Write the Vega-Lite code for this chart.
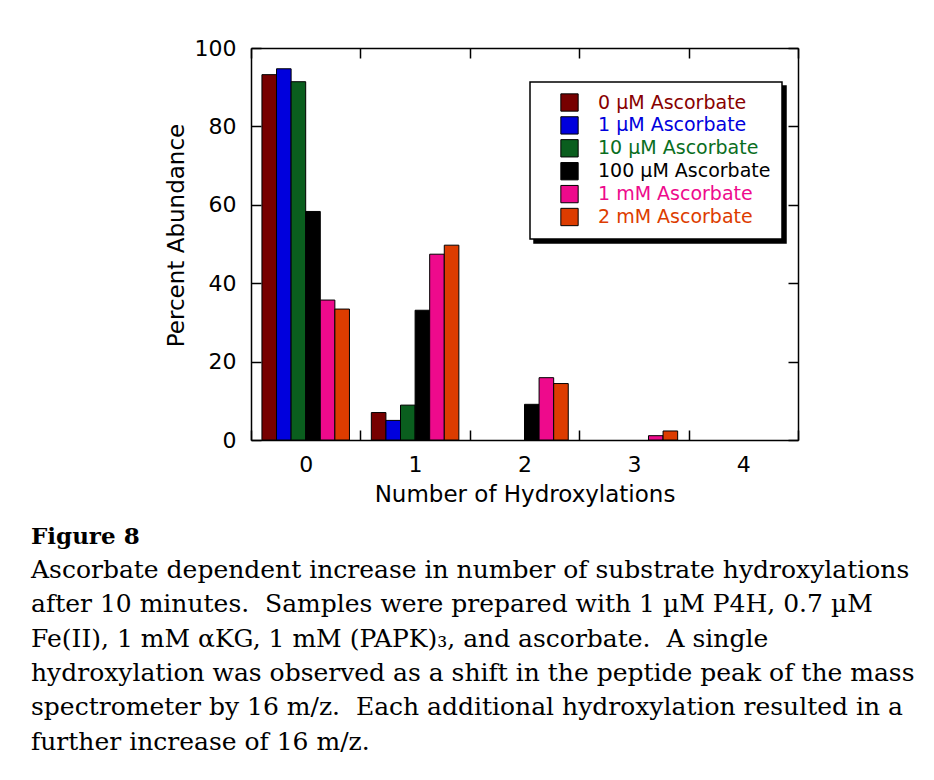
{
  "$schema": "https://vega.github.io/schema/vega-lite/v6.json",
  "autosize": {"type": "none"},
  "padding": {"left": 251, "top": 48, "right": 136, "bottom": 340},
  "width": 547,
  "height": 392,
  "background": "white",
  "config": {
    "font": "DejaVu Sans",
    "view": {"stroke": null},
    "axis": {"grid": false, "domainColor": "black", "domainWidth": 1.5, "tickColor": "black", "tickWidth": 1.5, "tickSize": -10, "labelColor": "black", "labelFontSize": 22, "titleColor": "black", "titleFontSize": 23, "titleFontWeight": "normal"},
    "legend": {"padding": 11, "symbolOffset": 19, "labelOffset": 19, "symbolType": "square", "symbolSize": 300, "symbolStrokeColor": "black", "symbolStrokeWidth": 1, "symbolOpacity": 1, "labelFontSize": 19, "rowPadding": -0.1, "strokeColor": "black", "labelLimit": 400}
  },
  "data": {"values": [
    {"hydroxylations": "0", "ascorbate": "0 µM Ascorbate", "percent": 93.2},
    {"hydroxylations": "0", "ascorbate": "1 µM Ascorbate", "percent": 94.7},
    {"hydroxylations": "0", "ascorbate": "10 µM Ascorbate", "percent": 91.4},
    {"hydroxylations": "0", "ascorbate": "100 µM Ascorbate", "percent": 58.3},
    {"hydroxylations": "0", "ascorbate": "1 mM Ascorbate", "percent": 35.7},
    {"hydroxylations": "0", "ascorbate": "2 mM Ascorbate", "percent": 33.4},
    {"hydroxylations": "1", "ascorbate": "0 µM Ascorbate", "percent": 7.0},
    {"hydroxylations": "1", "ascorbate": "1 µM Ascorbate", "percent": 5.0},
    {"hydroxylations": "1", "ascorbate": "10 µM Ascorbate", "percent": 8.9},
    {"hydroxylations": "1", "ascorbate": "100 µM Ascorbate", "percent": 33.1},
    {"hydroxylations": "1", "ascorbate": "1 mM Ascorbate", "percent": 47.4},
    {"hydroxylations": "1", "ascorbate": "2 mM Ascorbate", "percent": 49.7},
    {"hydroxylations": "2", "ascorbate": "100 µM Ascorbate", "percent": 9.1},
    {"hydroxylations": "2", "ascorbate": "1 mM Ascorbate", "percent": 15.9},
    {"hydroxylations": "2", "ascorbate": "2 mM Ascorbate", "percent": 14.4},
    {"hydroxylations": "3", "ascorbate": "1 mM Ascorbate", "percent": 1.1},
    {"hydroxylations": "3", "ascorbate": "2 mM Ascorbate", "percent": 2.3}
  ]},
  "title": {
    "text": "Figure 8",
    "subtitle": [
      "Ascorbate dependent increase in number of substrate hydroxylations",
      "after 10 minutes.\u00a0 Samples were prepared with 1 µM P4H, 0.7 µM",
      "Fe(II), 1 mM αKG, 1 mM (PAPK)₃, and ascorbate.\u00a0 A single",
      "hydroxylation was observed as a shift in the peptide peak of the mass",
      "spectrometer by 16 m/z.\u00a0 Each additional hydroxylation resulted in a",
      "further increase of 16 m/z."
    ],
    "orient": "bottom",
    "anchor": "start",
    "frame": "group",
    "dx": -220,
    "offset": 20,
    "font": "DejaVu Serif",
    "fontSize": 23,
    "fontWeight": "bold",
    "color": "black",
    "subtitleFont": "DejaVu Serif",
    "subtitleFontSize": 25,
    "subtitleColor": "black",
    "subtitleLineHeight": 34.3,
    "subtitlePadding": 9
  },
  "resolve": {"scale": {"color": "independent"}, "axis": {"x": "independent", "y": "independent"}},
  "layer": [
    {
      "mark": {"type": "bar", "stroke": "black", "strokeWidth": 1},
      "encoding": {
        "x": {"field": "hydroxylations", "type": "nominal", "scale": {"domain": ["0", "1", "2", "3", "4"], "paddingInner": 0, "paddingOuter": 0},
              "axis": {"orient": "bottom", "title": "Number of Hydroxylations", "labelAngle": 0, "tickBand": "extent", "labelPadding": 24, "titlePadding": 8}},
        "xOffset": {"field": "ascorbate", "type": "nominal", "scale": {"domain": ["0 µM Ascorbate", "1 µM Ascorbate", "10 µM Ascorbate", "100 µM Ascorbate", "1 mM Ascorbate", "2 mM Ascorbate"], "paddingInner": 0, "paddingOuter": 0.75}},
        "y": {"field": "percent", "type": "quantitative", "scale": {"domain": [0, 100], "nice": false},
              "axis": {"orient": "left", "title": "Percent Abundance", "values": [0, 20, 40, 60, 80, 100], "labelPadding": 25, "titlePadding": 6, "titleY": 187}},
        "color": {"field": "ascorbate", "type": "nominal",
          "scale": {"domain": ["0 µM Ascorbate", "1 µM Ascorbate", "10 µM Ascorbate", "100 µM Ascorbate", "1 mM Ascorbate", "2 mM Ascorbate"], "range": ["#770000", "#0000dd", "#0a5e1e", "#000000", "#ee0a8c", "#dd3c00"]},
          "legend": {"orient": "none", "legendX": 279, "legendY": 34, "title": null, "zindex": 2,
            "fillColor": "white",
            "labelColor": {"expr": "datum.value == '0 µM Ascorbate' ? '#880000' : datum.value == '1 µM Ascorbate' ? '#0000dd' : datum.value == '10 µM Ascorbate' ? '#0a6e1e' : datum.value == '100 µM Ascorbate' ? '#000000' : datum.value == '1 mM Ascorbate' ? '#ee0a8c' : '#dd3c00'"},
            "encode": {"legend": {"update": {"strokeWidth": {"value": 1.5}}}}}}
      }
    },
    {
      "mark": {"type": "bar", "opacity": 0},
      "encoding": {
        "x": {"field": "hydroxylations", "type": "nominal", "scale": {"domain": ["0", "1", "2", "3", "4"], "paddingInner": 0, "paddingOuter": 0},
              "axis": {"orient": "top", "title": null, "labels": false, "tickBand": "extent"}},
        "xOffset": {"field": "ascorbate", "type": "nominal", "scale": {"domain": ["0 µM Ascorbate", "1 µM Ascorbate", "10 µM Ascorbate", "100 µM Ascorbate", "1 mM Ascorbate", "2 mM Ascorbate"], "paddingInner": 0, "paddingOuter": 0.75}},
        "y": {"field": "percent", "type": "quantitative", "scale": {"domain": [0, 100], "nice": false},
              "axis": {"orient": "right", "title": null, "labels": false, "values": [0, 20, 40, 60, 80, 100]}},
        "color": {"field": "ascorbate", "type": "nominal",
          "scale": {"domain": ["0 µM Ascorbate", "1 µM Ascorbate", "10 µM Ascorbate", "100 µM Ascorbate", "1 mM Ascorbate", "2 mM Ascorbate"], "range": ["#000000", "#000000", "#000000", "#000000", "#000000", "#000000"]},
          "legend": {"orient": "none", "legendX": 283, "legendY": 38, "title": null, "zindex": 1,
            "fillColor": "black", "labelColor": "black", "labelExpr": "'\u00a0'", "labelOffset": 192,
            "encode": {"legend": {"update": {"strokeWidth": {"value": 1.5}}}}}}
      }
    }
  ]
}
